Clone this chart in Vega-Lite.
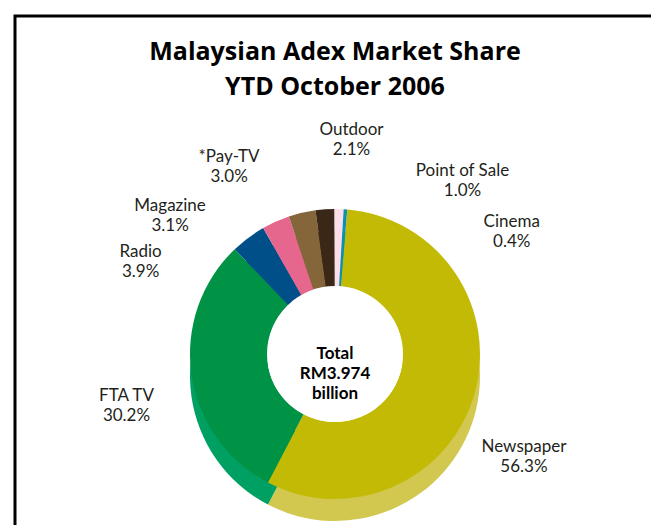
{
  "$schema": "https://vega.github.io/schema/vega-lite/v6.json",
  "width": 640,
  "height": 676,
  "padding": {"left": 13, "top": 14, "right": 0, "bottom": 0},
  "background": "white",
  "title": {
    "text": ["Malaysian Adex Market Share", "YTD October 2006"],
    "font": "Open Sans",
    "fontSize": 25,
    "fontWeight": "bold",
    "color": "#000000",
    "anchor": "middle",
    "baseline": "top",
    "lineHeight": 35,
    "offset": -85
  },
  "config": {
    "text": {"font": "Lato", "fontSize": 17, "color": "#231F20"}
  },
  "data": {
    "values": [
      {"medium": "Newspaper", "share": 0.563},
      {"medium": "FTA TV", "share": 0.302},
      {"medium": "Radio", "share": 0.039},
      {"medium": "Magazine", "share": 0.031},
      {"medium": "*Pay-TV", "share": 0.030},
      {"medium": "Outdoor", "share": 0.021},
      {"medium": "Point of Sale", "share": 0.010},
      {"medium": "Cinema", "share": 0.004}
    ]
  },
  "layer": [
    {
      "data": {"values": [{}]},
      "mark": {"type": "rect", "filled": false, "stroke": "#000000", "strokeWidth": 3},
      "encoding": {}
    },
    {
      "mark": {"type": "arc", "radius": 145, "radius2": 68, "yOffset": 22},
      "encoding": {
        "theta": {"field": "share", "type": "quantitative", "stack": true,
                  "scale": {"domain": [0, 1], "range": [0.085, 6.368]}},
        "order": {"field": "share", "sort": "descending"},
        "color": {"field": "medium", "type": "nominal", "legend": null,
                  "scale": {"domain": ["Newspaper", "FTA TV", "Radio", "Magazine", "*Pay-TV", "Outdoor", "Point of Sale", "Cinema"],
                            "range": ["#D2C74F", "#00A062", "#1A5E94", "#E97B9C", "#94764A", "#4A3525", "#FCE3EC", "#2A9DB6"]}}
      }
    },
    {
      "mark": {"type": "arc", "radius": 145, "radius2": 68},
      "encoding": {
        "theta": {"field": "share", "type": "quantitative", "stack": true,
                  "scale": {"domain": [0, 1], "range": [0.085, 6.368]}},
        "order": {"field": "share", "sort": "descending"},
        "color": {"field": "medium", "type": "nominal", "legend": null,
                  "scale": {"domain": ["Newspaper", "FTA TV", "Radio", "Magazine", "*Pay-TV", "Outdoor", "Point of Sale", "Cinema"],
                            "range": ["#C3BA06", "#009245", "#004F89", "#E6678E", "#85653A", "#3B2718", "#FCDDE9", "#0A91AD"]}}
      }
    },
    {
      "data": {"values": [{}]},
      "mark": {"type": "arc", "radius": 68, "radius2": 0, "theta": 0, "theta2": 6.2832, "color": "white"},
      "encoding": {}
    },
    {
      "data": {"values": [{}]},
      "mark": {"type": "text", "fontWeight": "bold", "fontSize": 17, "lineHeight": 20, "align": "center", "baseline": "middle", "color": "#000000"},
      "encoding": {
        "theta": {"value": 0},
        "radius": {"value": 0},
        "text": {"value": ["Total", "RM3.974", "billion"]}
      }
    },
    {
      "encoding": {
        "theta": {"field": "share", "type": "quantitative", "stack": true,
                  "scale": {"domain": [0.28150, 0.7140, 0.8845, 0.9195, 0.950, 0.9755, 0.991, 0.998],
                            "range": [2.068, 4.466, 5.154, 5.409, 5.768, 6.360, 6.918, 7.248]}},
        "order": {"field": "share", "sort": "descending"},
        "radius": {"value": 215}
      },
      "layer": [
        {
          "mark": {"type": "text", "align": "center", "baseline": "middle", "dy": -10},
          "encoding": {"text": {"field": "medium", "type": "nominal"}}
        },
        {
          "mark": {"type": "text", "align": "center", "baseline": "middle", "dy": 10},
          "encoding": {"text": {"field": "share", "type": "quantitative", "format": ".1%"}}
        }
      ]
    }
  ],
  "resolve": {"scale": {"theta": "independent", "color": "independent"}}
}
